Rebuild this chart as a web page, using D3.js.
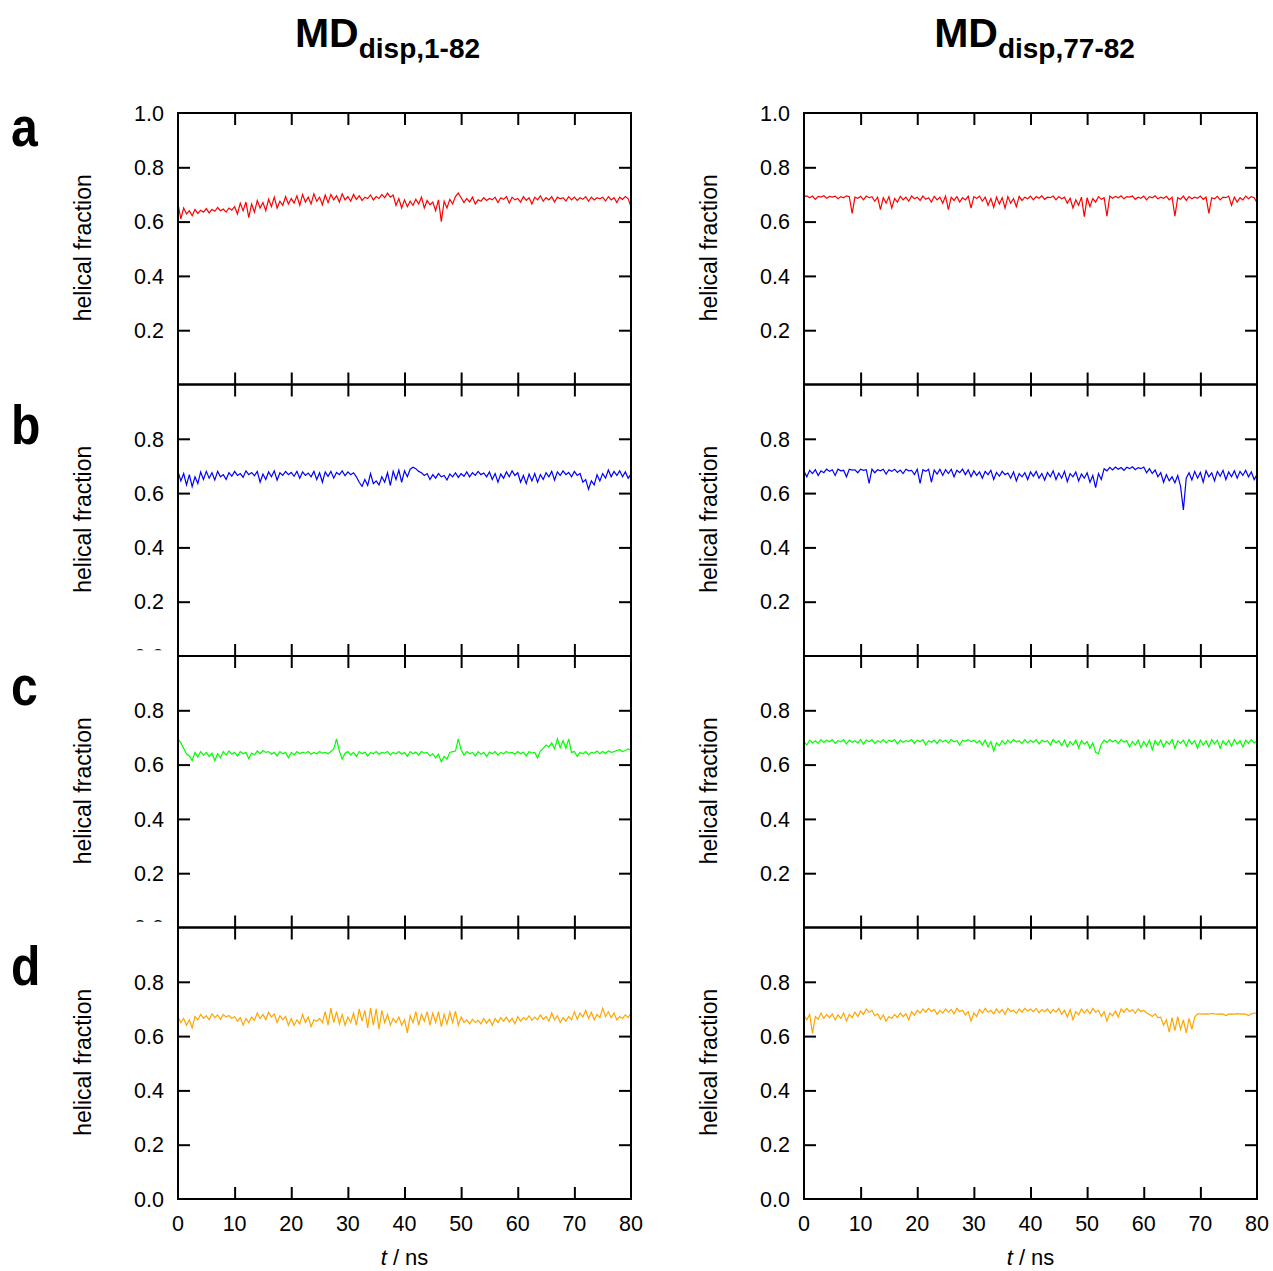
<!DOCTYPE html>
<html><head><meta charset="utf-8">
<script src="https://cdn.jsdelivr.net/npm/d3@7"></script>
<style>body{margin:0;background:#fff}svg text{font-family:"Liberation Sans",Arial,sans-serif}</style>
</head><body>
<svg id="chart" width="1273" height="1271"></svg>
<script>
// ---- data ----
const tStart = 0, tEnd = 80, tStep = 0.5;
const xTickValues = [0, 10, 20, 30, 40, 50, 60, 70, 80];
const yTickValues = [0.2, 0.4, 0.6, 0.8];
const yTickLabelsTop = ["1.0"];
const columnTitles = [["MD", "disp,1-82"], ["MD", "disp,77-82"]];
const rowLetters = ["a", "b", "c", "d"];
const seriesColors = ["#ff0000", "#0000ff", "#00ff00", "#ffa500"];

const aLeft = [
0.665,0.610,0.650,0.628,0.640,0.622,0.645,0.630,0.642,0.635,
0.648,0.632,0.645,0.638,0.652,0.640,0.646,0.635,0.650,0.642,
0.655,0.628,0.668,0.640,0.672,0.615,0.665,0.635,0.678,0.650,
0.670,0.640,0.682,0.655,0.690,0.650,0.675,0.660,0.692,0.665,
0.685,0.668,0.695,0.660,0.700,0.672,0.690,0.665,0.702,0.675,
0.690,0.662,0.698,0.670,0.700,0.680,0.695,0.672,0.702,0.680,
0.692,0.675,0.700,0.682,0.695,0.678,0.690,0.685,0.698,0.680,
0.692,0.685,0.700,0.688,0.705,0.690,0.698,0.660,0.685,0.650,
0.680,0.655,0.675,0.660,0.682,0.665,0.690,0.650,0.678,0.662,
0.672,0.640,0.680,0.600,0.675,0.650,0.682,0.665,0.692,0.705,
0.688,0.670,0.685,0.672,0.690,0.665,0.680,0.675,0.688,0.678,
0.685,0.680,0.690,0.670,0.688,0.682,0.692,0.668,0.690,0.680,
0.685,0.672,0.692,0.678,0.688,0.665,0.690,0.680,0.695,0.675,
0.688,0.680,0.692,0.672,0.690,0.684,0.688,0.676,0.692,0.680,
0.690,0.678,0.688,0.682,0.692,0.675,0.690,0.680,0.688,0.684,
0.690,0.676,0.692,0.680,0.688,0.670,0.690,0.682,0.692,0.684,
0.655];
const aRight = [
0.692,0.695,0.688,0.694,0.682,0.693,0.690,0.695,0.686,0.693,
0.690,0.694,0.684,0.692,0.688,0.695,0.692,0.630,0.690,0.686,
0.693,0.680,0.694,0.688,0.692,0.675,0.690,0.644,0.688,0.668,
0.692,0.650,0.685,0.672,0.693,0.680,0.690,0.675,0.694,0.684,
0.690,0.678,0.694,0.682,0.688,0.672,0.693,0.680,0.690,0.668,
0.694,0.644,0.690,0.678,0.692,0.672,0.688,0.680,0.694,0.650,
0.692,0.685,0.694,0.675,0.690,0.660,0.685,0.652,0.690,0.665,
0.688,0.650,0.692,0.668,0.685,0.655,0.693,0.678,0.690,0.684,
0.694,0.680,0.692,0.686,0.695,0.682,0.690,0.688,0.694,0.680,
0.692,0.684,0.690,0.668,0.686,0.650,0.680,0.660,0.690,0.618,
0.688,0.655,0.685,0.672,0.692,0.682,0.688,0.620,0.694,0.686,
0.693,0.688,0.695,0.684,0.692,0.690,0.694,0.682,0.690,0.686,
0.694,0.680,0.692,0.688,0.695,0.684,0.690,0.686,0.693,0.680,
0.690,0.620,0.688,0.682,0.694,0.678,0.692,0.684,0.690,0.686,
0.694,0.682,0.690,0.630,0.688,0.684,0.693,0.680,0.690,0.688,
0.694,0.660,0.690,0.672,0.688,0.680,0.694,0.684,0.692,0.688,
0.670];
const bLeft = [
0.680,0.645,0.672,0.630,0.668,0.624,0.660,0.635,0.678,0.650,
0.680,0.655,0.675,0.648,0.680,0.660,0.668,0.650,0.675,0.662,
0.680,0.665,0.672,0.658,0.682,0.668,0.676,0.664,0.680,0.640,
0.670,0.650,0.678,0.660,0.682,0.648,0.675,0.665,0.680,0.668,
0.676,0.662,0.680,0.655,0.678,0.665,0.674,0.660,0.680,0.650,
0.675,0.640,0.678,0.662,0.680,0.655,0.676,0.668,0.682,0.664,
0.678,0.668,0.675,0.660,0.640,0.625,0.650,0.628,0.672,0.635,
0.645,0.630,0.660,0.640,0.675,0.628,0.680,0.650,0.685,0.640,
0.682,0.660,0.688,0.695,0.690,0.680,0.675,0.665,0.672,0.650,
0.668,0.655,0.672,0.660,0.665,0.648,0.670,0.660,0.675,0.658,
0.672,0.662,0.678,0.660,0.675,0.665,0.680,0.668,0.674,0.660,
0.678,0.650,0.672,0.640,0.670,0.655,0.678,0.660,0.682,0.665,
0.675,0.640,0.665,0.635,0.670,0.645,0.672,0.640,0.668,0.650,
0.675,0.660,0.680,0.648,0.678,0.665,0.682,0.668,0.676,0.660,
0.680,0.665,0.672,0.640,0.650,0.614,0.645,0.630,0.668,0.645,
0.672,0.655,0.685,0.660,0.680,0.665,0.682,0.660,0.678,0.655,
0.670];
const bRight = [
0.680,0.660,0.684,0.672,0.686,0.665,0.682,0.675,0.688,0.680,
0.686,0.665,0.688,0.682,0.684,0.660,0.688,0.685,0.686,0.675,
0.688,0.684,0.686,0.636,0.688,0.675,0.686,0.682,0.688,0.670,
0.686,0.680,0.688,0.676,0.685,0.672,0.688,0.682,0.684,0.668,
0.688,0.636,0.686,0.680,0.688,0.640,0.685,0.670,0.688,0.665,
0.686,0.672,0.688,0.660,0.684,0.675,0.688,0.668,0.686,0.660,
0.682,0.665,0.678,0.655,0.680,0.668,0.684,0.650,0.676,0.662,
0.680,0.668,0.674,0.655,0.678,0.645,0.672,0.660,0.675,0.650,
0.678,0.662,0.680,0.655,0.672,0.648,0.676,0.660,0.682,0.650,
0.674,0.655,0.680,0.642,0.672,0.660,0.678,0.645,0.670,0.655,
0.675,0.640,0.665,0.620,0.672,0.650,0.690,0.682,0.695,0.685,
0.696,0.688,0.694,0.684,0.695,0.690,0.697,0.686,0.694,0.690,
0.696,0.675,0.690,0.672,0.685,0.660,0.675,0.640,0.668,0.645,
0.660,0.638,0.665,0.625,0.538,0.655,0.675,0.648,0.680,0.655,
0.676,0.640,0.682,0.660,0.675,0.645,0.680,0.662,0.684,0.650,
0.678,0.660,0.682,0.655,0.680,0.665,0.684,0.660,0.678,0.650,
0.668];
const cLeft = [
0.695,0.680,0.660,0.640,0.632,0.615,0.645,0.628,0.648,0.635,
0.645,0.630,0.642,0.615,0.640,0.625,0.648,0.635,0.650,0.638,
0.645,0.632,0.648,0.640,0.645,0.622,0.642,0.636,0.650,0.640,
0.652,0.645,0.648,0.638,0.645,0.632,0.648,0.640,0.645,0.625,
0.645,0.636,0.648,0.640,0.646,0.642,0.648,0.638,0.645,0.640,
0.648,0.642,0.645,0.640,0.648,0.658,0.695,0.650,0.620,0.642,
0.648,0.636,0.645,0.630,0.648,0.640,0.646,0.632,0.645,0.640,
0.648,0.638,0.645,0.642,0.648,0.636,0.645,0.640,0.648,0.638,
0.645,0.630,0.648,0.640,0.646,0.635,0.648,0.642,0.645,0.632,
0.640,0.625,0.638,0.610,0.630,0.620,0.645,0.648,0.650,0.695,
0.655,0.635,0.648,0.640,0.645,0.632,0.648,0.638,0.645,0.630,
0.646,0.640,0.648,0.635,0.645,0.640,0.648,0.642,0.645,0.638,
0.648,0.640,0.646,0.632,0.648,0.642,0.645,0.625,0.650,0.660,
0.672,0.665,0.680,0.658,0.695,0.662,0.688,0.660,0.695,0.645,
0.648,0.630,0.645,0.640,0.648,0.636,0.645,0.642,0.650,0.640,
0.648,0.642,0.650,0.645,0.648,0.652,0.655,0.648,0.652,0.658,
0.652];
const cRight = [
0.685,0.672,0.690,0.680,0.688,0.678,0.692,0.682,0.690,0.684,
0.692,0.678,0.688,0.684,0.692,0.676,0.690,0.682,0.688,0.680,
0.692,0.675,0.690,0.684,0.692,0.678,0.688,0.682,0.692,0.680,
0.690,0.684,0.692,0.676,0.690,0.682,0.688,0.685,0.692,0.678,
0.690,0.684,0.692,0.672,0.688,0.682,0.690,0.678,0.692,0.684,
0.690,0.680,0.692,0.684,0.688,0.672,0.690,0.686,0.692,0.684,
0.690,0.680,0.688,0.672,0.690,0.665,0.685,0.650,0.680,0.670,
0.688,0.675,0.690,0.680,0.692,0.684,0.688,0.678,0.692,0.680,
0.690,0.682,0.692,0.676,0.690,0.684,0.688,0.672,0.692,0.680,
0.688,0.670,0.690,0.665,0.685,0.672,0.690,0.662,0.688,0.675,
0.685,0.660,0.680,0.645,0.640,0.675,0.690,0.682,0.692,0.684,
0.690,0.678,0.692,0.682,0.688,0.665,0.685,0.672,0.690,0.662,
0.685,0.668,0.690,0.655,0.688,0.672,0.690,0.665,0.686,0.675,
0.692,0.660,0.688,0.678,0.690,0.668,0.692,0.675,0.688,0.660,
0.690,0.672,0.688,0.665,0.692,0.676,0.690,0.660,0.688,0.672,
0.690,0.668,0.692,0.675,0.688,0.665,0.690,0.678,0.692,0.680,
0.688];
const dLeft = [
0.670,0.650,0.665,0.640,0.660,0.630,0.672,0.660,0.680,0.665,
0.675,0.660,0.682,0.668,0.678,0.662,0.680,0.670,0.676,0.665,
0.672,0.655,0.668,0.640,0.665,0.650,0.670,0.658,0.685,0.665,
0.680,0.660,0.688,0.670,0.682,0.650,0.675,0.660,0.672,0.640,
0.665,0.640,0.660,0.645,0.680,0.650,0.670,0.635,0.660,0.655,
0.665,0.650,0.690,0.640,0.703,0.650,0.690,0.645,0.680,0.640,
0.670,0.650,0.685,0.640,0.700,0.655,0.695,0.630,0.703,0.640,
0.700,0.625,0.695,0.650,0.680,0.640,0.665,0.650,0.670,0.640,
0.660,0.612,0.675,0.650,0.690,0.640,0.680,0.655,0.690,0.640,
0.685,0.650,0.690,0.635,0.680,0.645,0.688,0.650,0.692,0.640,
0.670,0.650,0.660,0.645,0.662,0.650,0.658,0.645,0.665,0.648,
0.662,0.640,0.665,0.650,0.668,0.655,0.670,0.652,0.665,0.645,
0.672,0.655,0.668,0.660,0.675,0.658,0.670,0.660,0.678,0.662,
0.672,0.655,0.685,0.660,0.675,0.650,0.668,0.655,0.672,0.660,
0.690,0.662,0.685,0.670,0.695,0.665,0.688,0.660,0.680,0.668,
0.703,0.672,0.690,0.668,0.685,0.660,0.672,0.665,0.678,0.668,
0.685];
const dRight = [
0.675,0.660,0.680,0.610,0.672,0.662,0.685,0.665,0.680,0.668,
0.682,0.660,0.678,0.665,0.685,0.655,0.680,0.668,0.688,0.672,
0.692,0.680,0.700,0.688,0.695,0.675,0.682,0.662,0.678,0.655,
0.672,0.665,0.680,0.668,0.685,0.672,0.682,0.660,0.690,0.676,
0.695,0.685,0.700,0.688,0.702,0.690,0.698,0.680,0.695,0.685,
0.700,0.688,0.698,0.682,0.702,0.690,0.695,0.678,0.690,0.655,
0.685,0.672,0.698,0.685,0.702,0.688,0.695,0.682,0.700,0.686,
0.698,0.680,0.702,0.690,0.695,0.684,0.700,0.688,0.702,0.692,
0.700,0.690,0.702,0.686,0.698,0.690,0.700,0.684,0.698,0.688,
0.702,0.680,0.695,0.670,0.698,0.660,0.690,0.678,0.700,0.685,
0.698,0.682,0.702,0.688,0.695,0.672,0.690,0.655,0.685,0.675,
0.692,0.670,0.700,0.688,0.702,0.690,0.698,0.684,0.700,0.690,
0.695,0.685,0.680,0.672,0.682,0.668,0.670,0.640,0.660,0.615,
0.668,0.620,0.672,0.625,0.660,0.612,0.665,0.625,0.670,0.682,
0.682,0.681,0.682,0.681,0.684,0.682,0.681,0.682,0.681,0.676,
0.681,0.682,0.681,0.683,0.681,0.682,0.681,0.676,0.682,0.685,
0.684];

const seriesGrid = [[aLeft, aRight], [bLeft, bRight], [cLeft, cRight], [dLeft, dRight]];

// ---- layout ----
const svg = d3.select("#chart");
const colX = [[178, 631], [804, 1257]];
const titleShift = [-17, 4];
const rowTop0 = 113, rowH = 271.5;
const letterBaselines = [146, 444, 705, 985];
const times = d3.range(tStart, tEnd + tStep / 2, tStep);
const TICK = 12;

svg.append("rect").attr("width", 1273).attr("height", 1271).attr("fill", "#fff");

const defs = svg.append("defs");

rowLetters.forEach((letter, r) => {
  svg.append("text").attr("x", 11).attr("y", letterBaselines[r])
    .attr("font-size", 56).attr("font-weight", "bold")
    .attr("transform", `translate(11,0) scale(0.86,1) translate(-11,0)`)
    .text(letter);
});

columnTitles.forEach((tt, c) => {
  const cx = (colX[c][0] + colX[c][1]) / 2 + titleShift[c];
  const t = svg.append("text").attr("x", cx).attr("y", 47)
    .attr("text-anchor", "middle").attr("font-weight", "bold");
  t.append("tspan").attr("font-size", 41).text(tt[0]);
  t.append("tspan").attr("font-size", 28).attr("dy", 11).text(tt[1]);
});

for (let r = 0; r < 4; r++) {
  const top = rowTop0 + r * rowH, bottom = top + rowH;
  for (let c = 0; c < 2; c++) {
    const [x0, x1] = colX[c];
    const x = d3.scaleLinear().domain([tStart, tEnd]).range([x0, x1]);
    const y = d3.scaleLinear().domain([0, 1]).range([bottom, top]);
    const g = svg.append("g");

    // clipped partial 0.0 label (rows b, c, left column)
    if (c === 0 && (r === 1 || r === 2)) {
      const id = `clip${r}${c}`;
      defs.append("clipPath").attr("id", id).append("rect")
        .attr("x", 100).attr("y", y(0) - 20).attr("width", 70).attr("height", 14.2);
      g.append("text").attr("clip-path", `url(#${id})`)
        .attr("x", x0 - 14).attr("y", y(0)).attr("dy", "0.36em")
        .attr("text-anchor", "end").attr("font-size", 21.5).text("0.0");
    }

    // series line
    const vals = seriesGrid[r][c];
    g.append("path").datum(vals)
      .attr("fill", "none").attr("stroke", seriesColors[r]).attr("stroke-width", 1.2)
      .attr("stroke-linejoin", "miter")
      .attr("d", d3.line().x((d, i) => x(times[i])).y(d => y(d)));

    // ticks via axes
    const inner = xTickValues.filter(v => v > tStart && v < tEnd);
    const axTop = d3.axisBottom(x).tickValues(inner).tickSize(TICK).tickFormat("");
    const axBot = d3.axisTop(x).tickValues(inner).tickSize(TICK).tickFormat("");
    const axL = d3.axisRight(y).tickValues(yTickValues).tickSize(TICK).tickFormat("");
    const axR = d3.axisLeft(y).tickValues(yTickValues).tickSize(TICK).tickFormat("");
    [[axTop, `translate(0,${top})`], [axBot, `translate(0,${bottom})`],
     [axL, `translate(${x0},0)`], [axR, `translate(${x1},0)`]].forEach(([ax, tr]) => {
      const a = g.append("g").attr("transform", tr).call(ax);
      a.select(".domain").remove();
      a.selectAll("line").attr("stroke", "#000").attr("stroke-width", 2);
    });

    // frame
    g.append("rect").attr("x", x0).attr("y", top).attr("width", x1 - x0).attr("height", rowH)
      .attr("fill", "none").attr("stroke", "#000").attr("stroke-width", 2);

    // y labels
    const labs = yTickValues.map(v => [v, d3.format(".1f")(v)]);
    if (r === 0) labs.push([1, yTickLabelsTop[0]]);
    if (r === 3) labs.push([0, "0.0"]);
    labs.forEach(([v, s]) => {
      g.append("text").attr("x", x0 - 14).attr("y", y(v)).attr("dy", "0.36em")
        .attr("text-anchor", "end").attr("font-size", 21.5).text(s);
    });

    // y title
    g.append("text").attr("transform", `translate(${x0 - 87},${(top + bottom) / 2 - 1}) rotate(-90)`)
      .attr("text-anchor", "middle").attr("font-size", 23).text("helical fraction");

    // x labels bottom row
    if (r === 3) {
      xTickValues.forEach(v => {
        g.append("text").attr("x", x(v)).attr("y", bottom + 32)
          .attr("text-anchor", "middle").attr("font-size", 21.5).text(v);
      });
      const xt = g.append("text").attr("x", (x0 + x1) / 2).attr("y", bottom + 66)
        .attr("text-anchor", "middle").attr("font-size", 22);
      xt.append("tspan").attr("font-style", "italic").text("t");
      xt.append("tspan").text(" / ns");
    }
  }
}
</script>
</body></html>
